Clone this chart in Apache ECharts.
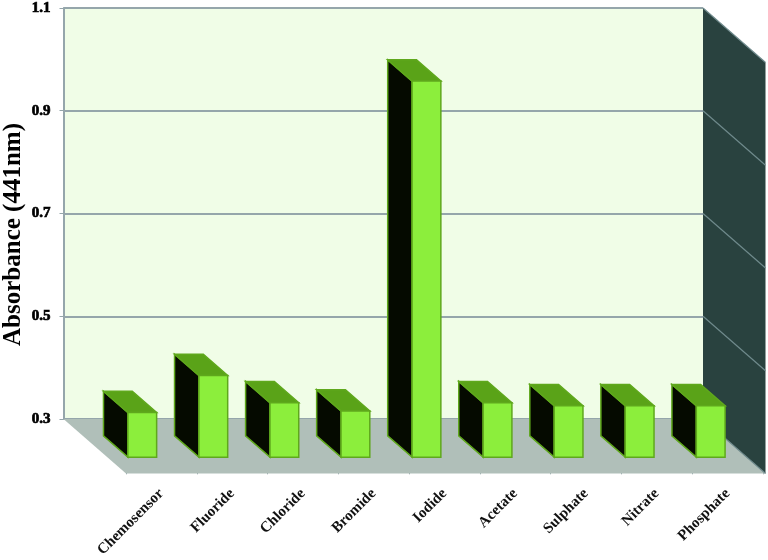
<!DOCTYPE html>
<html>
<head>
<meta charset="utf-8">
<style>
html,body{margin:0;padding:0;background:#fff}
#main{width:768px;height:560px}
</style>
<script src="https://cdn.jsdelivr.net/npm/echarts@6/dist/echarts.min.js"></script>
</head>
<body>
<div id="main"></div>
<script>
var categories = ['Chemosensor','Fluoride','Chloride','Bromide','Iodide','Acetate','Sulphate','Nitrate','Phosphate'];
var absorbance = [0.387,0.459,0.406,0.390,1.032,0.406,0.400,0.400,0.400];
var yTicks = [0.3,0.5,0.7,0.9,1.1];

// fake 3d: how far the front of the plot sits from the back wall, in px
var depthX = 62.5, depthY = 54.5;
var barBack = 0.31, barFront = 0.70;   // bar depth, as part of plot depth
var barStart = 0.29, barWidth = 0.405; // bar position, as part of a band

var chart = echarts.init(document.getElementById('main'));

function poly(points, fill, stroke) {
    return {
        type: 'polygon',
        shape: {points: points},
        style: {fill: fill, stroke: stroke || fill, lineWidth: stroke ? 1.5 : 0}
    };
}

function renderFloor(params, api) {
    var g = params.coordSys;
    var b = g.y + g.height, r = g.x + g.width;
    return {
        type: 'group',
        children: [
            poly([[g.x,b],[r,b],[r+depthX,b+depthY],[g.x+depthX,b+depthY]], '#b0bfb9'),
            poly([[r,g.y],[r+depthX,g.y+depthY],[r+depthX,b+depthY],[r,b]], '#29423f')
        ]
    };
}

function renderWallLine(params, api) {
    var g = params.coordSys;
    var y = api.coord([0, api.value(0)])[1];
    var r = g.x + g.width;
    return {
        type: 'line',
        shape: {x1: r, y1: y, x2: r + depthX, y2: y + depthY},
        style: {stroke: '#6f8a8c', lineWidth: 1.2}
    };
}

function renderBar(params, api) {
    var i = api.value(0);
    var band = api.size([1,0])[0];
    var top = api.coord([i, api.value(1)]);
    var base = api.coord([i, yTicks[0]]);
    var x0 = base[0] - band/2 + band*barStart;
    var w = band*barWidth;
    var xb = x0 + depthX*barBack, xf = x0 + depthX*barFront;
    var ob = depthY*barBack, of = depthY*barFront;
    var line = '#5fa81c';
    return {
        type: 'group',
        children: [
            poly([[xb,top[1]+ob],[xf,top[1]+of],[xf,base[1]+of],[xb,base[1]+ob]], '#050a00', line),
            poly([[xb,top[1]+ob],[xb+w,top[1]+ob],[xf+w,top[1]+of],[xf,top[1]+of]], '#5aa318', line),
            poly([[xf,top[1]+of],[xf+w,top[1]+of],[xf+w,base[1]+of],[xf,base[1]+of]], '#8cee3c', line)
        ]
    };
}

var barData = categories.map(function(c,i){ return [i, absorbance[i]]; });

var option = {
    animation: false,
    backgroundColor: '#fff',
    textStyle: {fontFamily: '"Liberation Serif"'},
    grid: [
        {left: 63.5, right: 65, top: 8, bottom: 141, show: true, backgroundColor: '#f0fde7', borderWidth: 0},
        {left: 126, right: 5, top: 62.5, bottom: 86.5}
    ],
    xAxis: [
        {type: 'category', data: categories, gridIndex: 0, axisLine: {show: false}, axisTick: {show: false}, axisLabel: {show: false}},
        {
            type: 'category', data: categories, gridIndex: 1,
            axisLine: {show: true, lineStyle: {color: '#95a6ab', width: 1}},
            axisTick: {show: true, length: 5, lineStyle: {color: '#95a6ab'}},
            axisLabel: {interval: 0, rotate: 45, margin: 22, color: '#111', fontSize: 15, fontWeight: 'bold', fontFamily: '"Liberation Serif"'}
        }
    ],
    yAxis: [
        {
            type: 'value', gridIndex: 0, min: 0.3, max: 1.1, interval: 0.2,
            axisLine: {show: true, lineStyle: {color: '#95a6ab', width: 2}},
            axisTick: {show: true, length: 4, lineStyle: {color: '#95a6ab'}},
            axisLabel: {margin: 13, color: '#000', fontSize: 15, fontWeight: 'bold', fontFamily: '"Liberation Serif"', textBorderColor: '#000', textBorderWidth: 0.7, formatter: function(v){ return v.toFixed(1); }},
            splitLine: {show: true, lineStyle: {color: '#95a6ab', width: 2}}
        },
        {type: 'value', gridIndex: 1, min: 0.3, max: 1.1, interval: 0.2, show: false}
    ],
    graphic: [{
        type: 'text', x: 14, y: 234.5, rotation: Math.PI/2,
        style: {text: 'Absorbance (441nm)', fill: '#000', font: 'bold 25px "Liberation Serif"', align: 'center', verticalAlign: 'middle'}
    }],
    series: [
        {type: 'custom', name: 'floor', silent: true, xAxisIndex: 0, yAxisIndex: 0, clip: false, z: 1, renderItem: renderFloor, data: [0]},
        {type: 'custom', name: 'wall lines', silent: true, xAxisIndex: 0, yAxisIndex: 0, clip: false, z: 2, renderItem: renderWallLine, encode: {y: 0}, data: yTicks.map(function(v){ return [v]; })},
        {type: 'custom', name: 'Absorbance', silent: true, xAxisIndex: 0, yAxisIndex: 0, clip: false, z: 3, renderItem: renderBar, encode: {x: 0, y: 1}, data: barData}
    ]
};
chart.setOption(option);
</script>
</body>
</html>
